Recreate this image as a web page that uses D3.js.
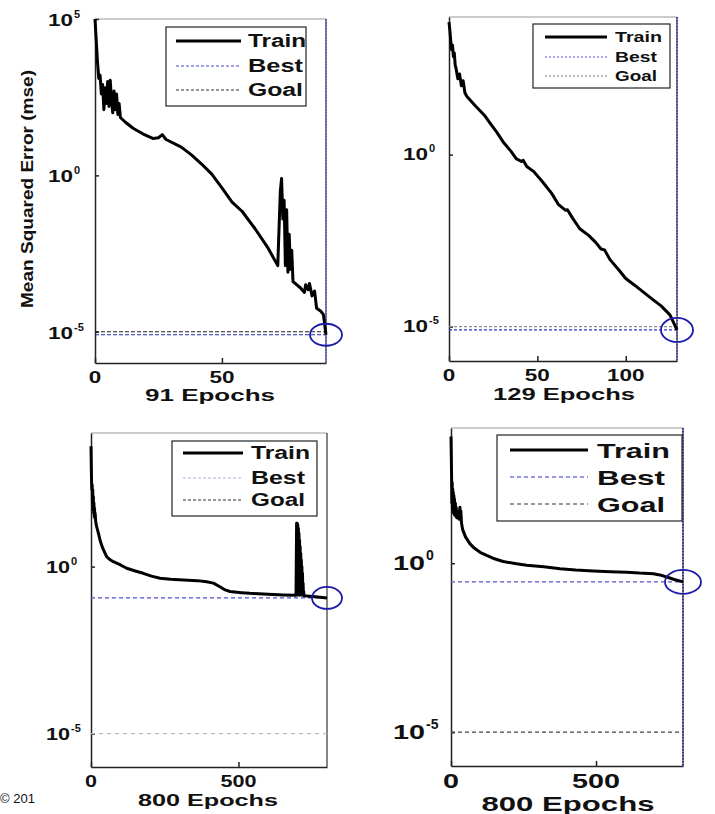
<!DOCTYPE html>
<html>
<head>
<meta charset="utf-8">
<script src="https://cdn.jsdelivr.net/npm/d3@7"></script>
<style>
    body { margin: 0; background: #fff; }
    svg { display: block; }
    text { font-family: "Liberation Sans", Arial, sans-serif; font-weight: bold; fill: #111; }
</style>
</head>
<body>
<div id="chart"></div>
<script>
/*
four MATLAB-style training performance plots (mse vs epochs, log scale)
 */

//training curves, one epoch list and one mse list per run:
var epochs91 = [0, 0.5, 1, 1.5, 2, 2.5, 3, 3.5, 4, 4.5, 5, 5.5, 6, 6.5, 7, 7.5, 8, 8.5, 9, 9.5, 10,
    12, 15, 19, 23, 25, 26.5, 28, 34, 38, 42, 46, 50, 54, 58, 63, 68, 72,
    73, 73.5, 74, 74.5, 75, 75.5, 76, 76.5, 77, 77.5, 78, 81, 82.5, 83, 84, 84.5, 85.5, 86.5, 87.3, 89, 90, 91];
var mse91 = [1e5, 2e4, 4e3, 1.26e3, 1.6e3, 400, 800, 126, 630, 200, 1000, 160, 1100, 250, 100, 500, 126, 400, 89, 200, 71,
    50, 32, 21, 15, 16, 20, 14, 8, 4.5, 2.3, 1.1, 0.4, 0.14, 0.07, 0.02, 5e-3, 1.3e-3,
    0.3, 0.8, 0.04, 0.16, 1.3e-3, 0.08, 8e-4, 0.013, 1e-3, 4e-3, 4e-4, 2.5e-4, 1.8e-4, 3.2e-4, 2.2e-4, 3.5e-4, 1.4e-4, 2e-4, 5.6e-5, 4.5e-5, 3.5e-5, 8e-6];

var epochs129 = [0, 0.5, 1, 1.5, 2, 2.5, 3, 3.5, 4, 5, 6, 7, 8, 9, 10, 15, 20, 23, 27, 31, 35, 38, 41, 42, 44, 48,
    53, 58, 62, 66, 67, 70, 74, 79, 83, 86, 88, 91, 96, 100, 105, 110, 115, 120, 125, 129];
var mse129 = [7100, 4000, 2000, 1100, 1500, 700, 900, 400, 320, 160, 220, 100, 140, 63, 50, 26, 14, 8.5, 4.5, 2.2, 1.26, 0.76, 0.63, 0.68, 0.45, 0.32,
    0.16, 0.076, 0.035, 0.024, 0.025, 0.014, 7e-3, 4.5e-3, 2.8e-3, 1.8e-3, 1.7e-3, 9e-4, 4.5e-4, 2.5e-4, 1.6e-4, 1e-4, 6.3e-5, 4e-5, 2.2e-5, 8e-6];

var epochs800a = [0, 1, 2, 3, 4, 5, 6, 7, 8, 9, 10, 11, 12, 13, 14, 16, 19, 25, 32, 40, 53, 65, 76, 100, 121, 150, 177, 205, 234, 270,
    313, 360, 392, 415, 437, 455, 471, 510, 539, 600, 652, 695,
    697, 698, 699, 700, 701, 702, 703, 704, 705, 706, 707, 708, 709, 710, 711, 712, 713, 714, 715, 716, 717, 718, 719, 720, 721,
    722, 760, 800];
var mse800a = [4000, 1000, 320, 200, 280, 80, 200, 50, 126, 40, 80, 32, 56, 28, 40, 22, 16, 10, 5.6, 3.5, 2, 1.6, 1.4, 1.12, 0.89, 0.74, 0.63, 0.52, 0.45, 0.42,
    0.4, 0.38, 0.35, 0.32, 0.25, 0.2, 0.18, 0.166, 0.158, 0.148, 0.141, 0.138,
    20, 0.14, 20, 0.14, 18, 0.14, 14, 0.14, 10, 0.14, 6.3, 0.14, 4, 0.14, 2.5, 0.14, 1.6, 0.14, 1, 0.14, 0.63, 0.14, 0.32, 0.14, 0.18,
    0.135, 0.126, 0.115];

var epochs800b = [0, 1, 2, 3, 4, 5, 6, 7, 8, 9, 10, 11, 12, 13, 15, 17, 18, 20, 22, 25, 28, 30, 31, 32, 34, 36, 40, 50, 65, 80, 100, 123, 150, 180, 220,
    261, 320, 376, 430, 491, 550, 606, 650, 698, 720, 744, 770, 800];
var mse800b = [5600, 1600, 400, 60, 250, 40, 160, 32, 126, 30, 100, 28, 80, 26, 60, 24, 45, 22, 35, 22, 20, 40, 45, 20, 35, 16, 10, 6, 3.8, 2.8, 2.1, 1.7, 1.35, 1.12, 0.98,
    0.87, 0.78, 0.69, 0.63, 0.59, 0.56, 0.54, 0.51, 0.49, 0.45, 0.39, 0.33, 0.28];

var bestMse = [8e-6, 8e-6, 0.115, 0.28];
var goalMse = [1e-5, 1e-5, 1e-5, 1e-5];
var epochTitles = ["91 Epochs", "129 Epochs", "800 Epochs", "800 Epochs"];
var xTickValues = [[0, 50], [0, 50, 100], [0, 500], [0, 500]];
var yTickExponents = [[-5, 0, 5], [-5, 0], [-5, 0], [-5, 0]];
var legendLabels = ["Train", "Best", "Goal"];

//layout + styles for each panel:
var panels = [
    {epochs: epochs91, mse: mse91, maxEpoch: 91, yTop: 1e5,
        left: 95, right: 326, top: 19, bottom: 363,
        tickFont: 16, digitW: 12.5, tenX: 48, labelDy: 7, xLabelY: 383,
        titleX: 210, titleY: 401, titleFont: 16, titleLen: 130,
        leg: {x: 166, y: 27, w: 140, h: 79, rows: [41, 66, 90], l1: 176, l2: 241, tx: 248, font: 18, lens: [58, 55, 55]},
        legBest: {c: "#4444cc", d: "3,2"}, legGoal: {c: "#333", d: "3,2"},
        best: {c: "#2a2aaa", d: "4,2"}, goal: {c: "#222", d: "4,2"},
        ell: {rx: 16, ry: 11}, vline: "#5555cc"},
    {epochs: epochs129, mse: mse129, maxEpoch: 129, yTop: 1e4,
        left: 449, right: 677, top: 17, bottom: 361,
        tickFont: 16, digitW: 12.5, tenX: 403, labelDy: 5, xLabelY: 381,
        titleX: 564, titleY: 400, titleFont: 16, titleLen: 142,
        leg: {x: 533, y: 24, w: 137, h: 64, rows: [37, 57, 76], l1: 545, l2: 607, tx: 615, font: 15, lens: [47, 42, 42]},
        legBest: {c: "#5555dd", d: "2,2"}, legGoal: {c: "#777", d: "2,2"},
        best: {c: "#3333cc", d: "3,2"}, goal: {c: "#888", d: "3,2"},
        ell: {rx: 16, ry: 12}, vline: "#3333bb"},
    {epochs: epochs800a, mse: mse800a, maxEpoch: 800, yTop: 1e4,
        left: 91, right: 327, top: 433, bottom: 767,
        tickFont: 16, digitW: 12, tenX: 46, labelDy: 6, xLabelY: 787,
        titleX: 208, titleY: 806, titleFont: 16, titleLen: 140,
        leg: {x: 172, y: 441, w: 145, h: 75, rows: [453, 478, 500], l1: 183, l2: 243, tx: 251, font: 18, lens: [59, 54, 54]},
        legBest: {c: "#aab0ea", d: "3,2"}, legGoal: {c: "#333", d: "3,2"},
        best: {c: "#4d4dd6", d: "4,3"}, goal: {c: "#bbb", d: "4,4"},
        ell: {rx: 15, ry: 11}, vline: null},
    {epochs: epochs800b, mse: mse800b, maxEpoch: 800, yTop: 1e4,
        left: 451, right: 683, top: 428, bottom: 766,
        tickFont: 21, digitW: 16, tenX: 393, labelDy: 7, xLabelY: 788,
        titleX: 568, titleY: 811, titleFont: 21, titleLen: 173,
        leg: {x: 497, y: 435, w: 185, h: 86, rows: [450, 477, 504], l1: 510, l2: 588, tx: 597, font: 21, lens: [73, 68, 68]},
        legBest: {c: "#3333cc", d: "4,3"}, legGoal: {c: "#333", d: "4,3"},
        best: {c: "#5555cc", d: "4,3"}, goal: {c: "#444", d: "4,3"},
        ell: {rx: 18, ry: 12}, vline: "#2222aa"}
];

var svg = d3.select("#chart")
    .append("svg")
    .attr("width", 715)
    .attr("height", 814);

function drawPanel(p, i) {
    var g = svg.append("g");

    var xScale = d3.scaleLinear().domain([0, p.maxEpoch]).range([p.left, p.right]);
    var yScale = d3.scaleLog().domain([1e-6, p.yTop]).range([p.bottom, p.top]);

    //top + right frame
    g.append("line")
        .attr("x1", p.left).attr("x2", p.right)
        .attr("y1", p.top).attr("y2", p.top)
        .attr("stroke", "#999").attr("stroke-width", 1.2);
    g.append("line")
        .attr("x1", p.right).attr("x2", p.right)
        .attr("y1", p.top).attr("y2", p.bottom)
        .attr("stroke", "#444").attr("stroke-width", 1.3);

    //axis (ticks pointing inwards, labels drawn by hand below)
    var yAxis = d3.axisRight(yScale)
        .tickValues(yTickExponents[i].map(function (e) { return Math.pow(10, e); }))
        .tickSize(4).tickSizeOuter(0).tickFormat("");
    var xAxis = d3.axisTop(xScale)
        .tickValues(xTickValues[i])
        .tickSize(5).tickSizeOuter(0).tickFormat("");

    g.append("g")
        .attr("transform", "translate(" + p.left + ",0)")
        .call(yAxis)
        .call(function (a) { a.selectAll("path, line").attr("stroke", "#222").attr("stroke-width", 1.5); });
    g.append("g")
        .attr("transform", "translate(0," + p.bottom + ")")
        .call(xAxis)
        .call(function (a) { a.selectAll("path, line").attr("stroke", "#222").attr("stroke-width", 1.5); });

    //y tick labels: 10 with superscript
    var expFont = Math.round(p.tickFont * 0.66);
    yTickExponents[i].forEach(function (e) {
        var yy = yScale(Math.pow(10, e)) + p.labelDy;
        g.append("text")
            .attr("x", p.tenX).attr("y", yy)
            .attr("font-size", p.tickFont)
            .attr("textLength", p.digitW * 2).attr("lengthAdjust", "spacingAndGlyphs")
            .text("10");
        g.append("text")
            .attr("x", p.tenX + p.digitW * 2 + 1).attr("y", yy - p.tickFont * 0.5)
            .attr("font-size", expFont)
            .text(e);
    });

    //x tick labels
    xTickValues[i].forEach(function (v) {
        var s = String(v);
        g.append("text")
            .attr("x", xScale(v)).attr("y", p.xLabelY)
            .attr("text-anchor", "middle")
            .attr("font-size", p.tickFont)
            .attr("textLength", p.digitW * s.length).attr("lengthAdjust", "spacingAndGlyphs")
            .text(s);
    });

    //title under axis
    g.append("text")
        .attr("x", p.titleX - p.titleLen / 2).attr("y", p.titleY)
        .attr("font-size", p.titleFont)
        .attr("textLength", p.titleLen).attr("lengthAdjust", "spacingAndGlyphs")
        .text(epochTitles[i]);

    //goal + best lines
    g.append("line")
        .attr("x1", p.left).attr("x2", p.right)
        .attr("y1", yScale(goalMse[i])).attr("y2", yScale(goalMse[i]))
        .attr("stroke", p.goal.c).attr("stroke-width", 1.2)
        .attr("stroke-dasharray", p.goal.d);
    g.append("line")
        .attr("x1", p.left).attr("x2", p.right)
        .attr("y1", yScale(bestMse[i])).attr("y2", yScale(bestMse[i]))
        .attr("stroke", p.best.c).attr("stroke-width", 1.2)
        .attr("stroke-dasharray", p.best.d);

    //best epoch vertical
    if (p.vline) {
        g.append("line")
            .attr("x1", xScale(p.maxEpoch)).attr("x2", xScale(p.maxEpoch))
            .attr("y1", p.top).attr("y2", p.bottom)
            .attr("stroke", p.vline).attr("stroke-width", 1.6)
            .attr("stroke-dasharray", "1.5,1.5");
    }

    //train curve
    var lineSegment = d3.line()
        .x(function (d) { return xScale(d[0]); })
        .y(function (d) { return yScale(d[1]); });
    g.append("path")
        .datum(d3.zip(p.epochs, p.mse))
        .attr("d", lineSegment)
        .attr("fill", "none")
        .attr("stroke", "#000")
        .attr("stroke-width", 3)
        .attr("stroke-linejoin", "round");

    //circle round best point
    g.append("ellipse")
        .attr("cx", xScale(p.maxEpoch)).attr("cy", yScale(bestMse[i]))
        .attr("rx", p.ell.rx).attr("ry", p.ell.ry)
        .attr("fill", "none")
        .attr("stroke", "#1c1ca8").attr("stroke-width", 1.8);

    //legend
    var L = p.leg;
    g.append("rect")
        .attr("x", L.x).attr("y", L.y).attr("width", L.w).attr("height", L.h)
        .attr("fill", "#fff").attr("stroke", "#222").attr("stroke-width", 1.2);
    var styles = [{c: "#000", d: null, w: 3}, {c: p.legBest.c, d: p.legBest.d, w: 1.2}, {c: p.legGoal.c, d: p.legGoal.d, w: 1.2}];
    legendLabels.forEach(function (lab, k) {
        g.append("line")
            .attr("x1", L.l1).attr("x2", L.l2)
            .attr("y1", L.rows[k]).attr("y2", L.rows[k])
            .attr("stroke", styles[k].c).attr("stroke-width", styles[k].w)
            .attr("stroke-dasharray", styles[k].d);
        g.append("text")
            .attr("x", L.tx).attr("y", L.rows[k] + L.font * 0.36)
            .attr("font-size", L.font)
            .attr("textLength", L.lens[k]).attr("lengthAdjust", "spacingAndGlyphs")
            .text(lab);
    });
}

panels.forEach(drawPanel);

//y label on first panel only
svg.append("text")
    .attr("transform", "translate(33,189) rotate(-90)")
    .attr("text-anchor", "middle")
    .attr("font-size", 17)
    .style("font-family", "'Liberation Sans Narrow', 'Arial Narrow', sans-serif")
    .attr("textLength", 238).attr("lengthAdjust", "spacingAndGlyphs")
    .text("Mean Squared Error  (mse)");

svg.append("text")
    .attr("x", 0).attr("y", 803)
    .attr("font-size", 13)
    .style("font-weight", "normal")
    .text("© 201");
</script>
</body>
</html>
